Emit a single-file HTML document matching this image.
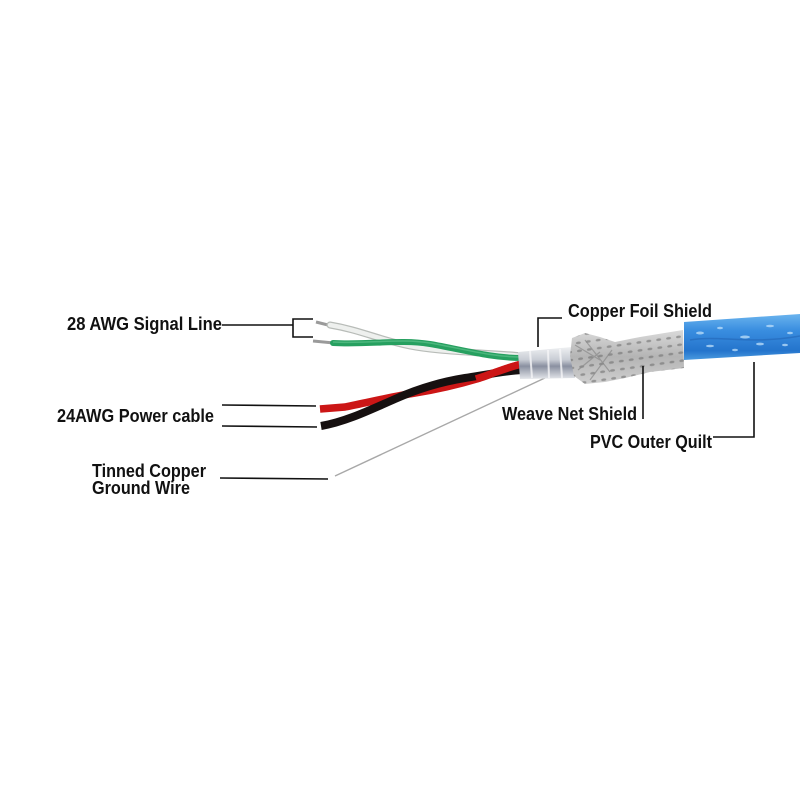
<!DOCTYPE html>
<html>
<head>
<meta charset="utf-8">
<style>
html,body{margin:0;padding:0;background:#fff;}
svg{display:block;}
text{font-family:"Liberation Sans",Arial,sans-serif;font-weight:bold;font-size:18px;fill:#111;}
</style>
</head>
<body>
<svg width="800" height="800" viewBox="0 0 800 800" xmlns="http://www.w3.org/2000/svg">
<defs>
  <linearGradient id="blue" x1="0" y1="0" x2="0" y2="1">
    <stop offset="0" stop-color="#6ab4ee"/>
    <stop offset="0.35" stop-color="#3a8ee0"/>
    <stop offset="0.8" stop-color="#2474cc"/>
    <stop offset="1" stop-color="#4a9ae0"/>
  </linearGradient>
  <linearGradient id="foil" x1="0" y1="0" x2="0" y2="1">
    <stop offset="0" stop-color="#eef0f2"/>
    <stop offset="0.4" stop-color="#c8ccd4"/>
    <stop offset="0.6" stop-color="#8a90a0"/>
    <stop offset="1" stop-color="#e4e6ea"/>
  </linearGradient>
  <linearGradient id="braid" x1="0" y1="0" x2="0" y2="1">
    <stop offset="0" stop-color="#dadada"/>
    <stop offset="0.5" stop-color="#b4b4b4"/>
    <stop offset="1" stop-color="#d0d0d0"/>
  </linearGradient>
  <pattern id="weave" width="10" height="8" patternUnits="userSpaceOnUse" patternTransform="rotate(-8)">
    <ellipse cx="5" cy="4" rx="2.5" ry="1.3" fill="#707070" opacity="0.6"/>
  </pattern>
</defs>

<!-- ground wire -->
<path d="M335,476 L547,377" stroke="#a8a8a8" stroke-width="1.4" fill="none"/>

<!-- white signal wire -->
<path d="M316,322 L332,326" stroke="#9a9a9a" stroke-width="3" fill="none"/>
<path d="M330,325 C360,330 380,340 410,346 S480,352 522,356" stroke="#b8bcb8" stroke-width="7" fill="none" stroke-linecap="round"/>
<path d="M330,325 C360,330 380,340 410,346 S480,352 522,356" stroke="#eef0ee" stroke-width="4.5" fill="none" stroke-linecap="round"/>

<!-- green signal wire -->
<path d="M313,341 L334,343" stroke="#9a9a9a" stroke-width="3" fill="none"/>
<path d="M333,343 C370,345 400,339 430,344 S490,358 522,358" stroke="#27a060" stroke-width="6" fill="none" stroke-linecap="round"/>
<path d="M333,342 C370,344 400,338 430,343 S490,357 522,357" stroke="#5cc08a" stroke-width="1.5" fill="none" opacity="0.7"/>

<!-- red power wire -->
<path d="M320,409 L345,407 C370,402 395,396 415,393 C440,389 460,384 480,378 C495,373 508,367 522,364" stroke="#cc1616" stroke-width="7.5" fill="none"/>
<!-- black power wire -->
<path d="M321,426 C345,422 370,410 395,399 C415,390 440,382 465,378 C490,374 505,371 522,370" stroke="#161010" stroke-width="8" fill="none"/>
<!-- red over black at right twist -->
<path d="M476,379 C492,374 508,367 522,364" stroke="#cc1616" stroke-width="7.5" fill="none"/>

<!-- foil -->
<path d="M518,352 L572,347 L575,378 L520,379 Z" fill="url(#foil)"/>
<path d="M530,351 L532,378 M548,350 L549,378 M560,349 L562,378" stroke="#f6f6f8" stroke-width="2" opacity="0.8"/>

<!-- braid -->
<path d="M572,338 L585,333 L600,337 L615,342 L640,337 L683,330 L684,368 L650,372 L625,378 L605,382 L585,384 L574,376 L570,356 Z" fill="url(#braid)"/>
<path d="M572,338 L585,333 L600,337 L615,342 L640,337 L683,330 L684,368 L650,372 L625,378 L605,382 L585,384 L574,376 L570,356 Z" fill="url(#weave)"/>
<path d="M575,345 L600,360 M578,370 L600,352 M585,340 L610,372 M590,380 L612,350" stroke="#8a8a8a" stroke-width="1.2" opacity="0.7"/>

<!-- blue PVC jacket -->
<path d="M684,322 L800,314 L800,353 L684,360 Z" fill="url(#blue)"/>
<g fill="#bfe0fa" opacity="0.75">
  <ellipse cx="700" cy="333" rx="4" ry="1.5"/>
  <ellipse cx="720" cy="328" rx="3" ry="1.2"/>
  <ellipse cx="745" cy="337" rx="5" ry="1.5"/>
  <ellipse cx="770" cy="326" rx="4" ry="1.3"/>
  <ellipse cx="790" cy="333" rx="3" ry="1.2"/>
  <ellipse cx="710" cy="346" rx="4" ry="1.3"/>
  <ellipse cx="735" cy="350" rx="3" ry="1.2"/>
  <ellipse cx="760" cy="344" rx="4" ry="1.4"/>
  <ellipse cx="785" cy="345" rx="3" ry="1.2"/>
</g>
<path d="M690,340 C720,335 750,345 800,336" stroke="#1f5fb0" stroke-width="1.5" fill="none" opacity="0.5"/>

<!-- connector lines -->
<g stroke="#111" stroke-width="1.6" fill="none">
  <path d="M222,325 L293,325"/>
  <path d="M313,319 L293,319 L293,337 L313,337"/>
  <path d="M222,405 L316,406"/>
  <path d="M222,426 L317,427"/>
  <path d="M220,478 L328,479"/>
  <path d="M562,318 L538,318 L538,347"/>
  <path d="M643,366 L643,419"/>
  <path d="M713,437 L754,437 L754,362"/>
</g>

<!-- labels -->
<text x="67" y="330" textLength="155" lengthAdjust="spacingAndGlyphs">28 AWG Signal Line</text>
<text x="57" y="422" textLength="157" lengthAdjust="spacingAndGlyphs">24AWG Power cable</text>
<text x="92" y="477" textLength="114" lengthAdjust="spacingAndGlyphs">Tinned Copper</text>
<text x="92" y="494" textLength="98" lengthAdjust="spacingAndGlyphs">Ground Wire</text>
<text x="568" y="317" textLength="144" lengthAdjust="spacingAndGlyphs">Copper Foil Shield</text>
<text x="502" y="420" textLength="135" lengthAdjust="spacingAndGlyphs">Weave Net Shield</text>
<text x="590" y="448" textLength="122" lengthAdjust="spacingAndGlyphs">PVC Outer Quilt</text>
</svg>
</body>
</html>
